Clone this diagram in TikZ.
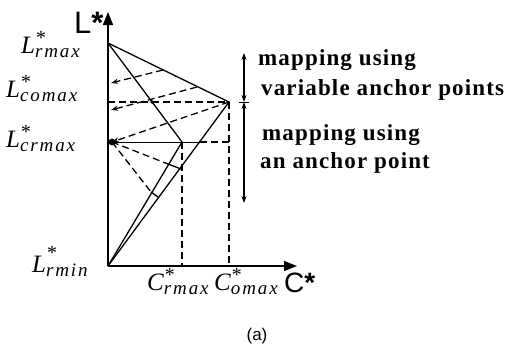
\documentclass[tikz,border=0pt]{standalone}
\usepackage{fontspec}
\setmainfont{Liberation Serif}
\newfontfamily\axfont{Liberation Sans}
\usetikzlibrary{arrows.meta}
\newcommand{\ilab}[3]{{\fontsize{25}{25}\selectfont\itshape #1}\raisebox{-4pt}{\fontsize{19}{13}\selectfont\itshape\begin{tabular}[b]{@{}l@{}}{\fontsize{20}{13}\selectfont *}\\\addfontfeature{LetterSpace=#3}#2\end{tabular}}}
\tikzset{
  ln/.style={line width=1.3pt},
  dsh/.style={line width=1.3pt, dash pattern=on 7pt off 4pt},
  axis/.style={line width=1.5pt, -{Triangle[length=13pt,width=10pt]}},
  darr/.style={dsh, -{Stealth[length=7pt,width=5pt]}},
  varr/.style={line width=1.1pt, {Stealth[length=7pt,width=5pt]}-{Stealth[length=7pt,width=5pt]}},
  btxt/.style={anchor=base west, inner sep=0pt, font=\fontsize{23}{23}\selectfont\bfseries\addfontfeature{LetterSpace=5}},
  mlab/.style={anchor=base west, inner sep=0pt},
}
\begin{document}
\begin{tikzpicture}[x=1pt,y=-1pt]
\useasboundingbox (0,0) rectangle (508,357);
% key points
\coordinate (O) at (108,266);
\coordinate (Ytop) at (108,12);
\coordinate (Xend) at (297,266);
\coordinate (Lrmax) at (108,43);
\coordinate (Lcomax) at (108,102);
\coordinate (Lcrmax) at (108,142);
\coordinate (R) at (229,102);
\coordinate (M) at (182,142);
\coordinate (Hx) at (200,142);
\coordinate (Hr) at (229,142);
\coordinate (Cr) at (182,266);
\coordinate (Co) at (229,266);
\coordinate (A1s) at (163,70);
\coordinate (A1e) at (111,83);
\coordinate (A2s) at (197,87);
\coordinate (A2e) at (111,110);
\coordinate (A3e) at (112,142);
\coordinate (T1a) at (168,164);
\coordinate (T1b) at (181,169);
\coordinate (T2a) at (151,192);
\coordinate (T2b) at (158,197);
\coordinate (Dm) at (152,102);
\coordinate (V1t) at (244,53);
\coordinate (V1b) at (244,102);
\coordinate (V2b) at (244,203);
\coordinate (Tkl) at (239,102);
\coordinate (Tkr) at (249,102);
% axes
\draw[axis] (O) -- (Ytop);
\draw[axis] (O) -- (Xend);
% solid lines
\draw[ln] (Lrmax) -- (R) -- (O);
\draw[ln] (Lrmax) -- (M) -- (O);
\draw[line width=1pt] (Lcrmax) -- (Hx);
\draw[ln] (T1a) -- (T1b);
\draw[ln] (T2a) -- (T2b);
% dashed lines
\draw[dsh] (Lcomax) -- (R);
\draw[dsh] (R) -- (Co);
\draw[dsh] (M) -- (Cr);
\draw[dsh] (Hx) -- (Hr);
\draw[dsh] (A3e) -- (T1a);
\draw[dsh] (A3e) -- (T2a);
\draw[darr] (A1s) -- (A1e);
\draw[darr] (A2s) -- (A2e);
\draw[darr] (R) -- (A3e);
\fill (A3e) circle (3.4pt);
\fill (Dm) circle (1.8pt);
% right arrows
\draw[varr] (V1t) -- (V1b);
\draw[varr] (V1b) -- (V2b);
\draw[line width=1pt] (Tkl) -- (Tkr);
% texts
\node[btxt] (t1) at (258,65) {mapping using};
\node[btxt] (t2) at (261,95) {variable anchor points};
\node[btxt] (t3) at (262,140) {mapping using};
\node[btxt] (t4) at (260,168) {an anchor point};
% labels
\node[mlab] (l1) at (21,53) {\ilab{L}{rmax}{10}};
\node[mlab] (l2) at (6,97) {\ilab{L}{comax}{10}};
\node[mlab] (l3) at (6,147) {\ilab{L}{crmax}{10}};
\node[mlab] (l4) at (32,272) {\ilab{L}{rmin}{10}};
\node[mlab] (c1) at (147,290) {\ilab{C}{rmax}{10}};
\node[mlab] (c2) at (214,290) {\ilab{C}{omax}{10}};
\node[anchor=base west, inner sep=0pt, font=\axfont\fontsize{31}{31}\selectfont] (ly) at (74,33) {L\textbf{*}};
\node[anchor=base west, inner sep=0pt, font=\axfont\fontsize{28}{28}\selectfont] (cx) at (284,292) {C\textbf{*}};
\node[inner sep=0pt, font=\axfont\fontsize{17}{17}\selectfont] (cap) at (257,336) {(a)};
\end{tikzpicture}
\end{document}
